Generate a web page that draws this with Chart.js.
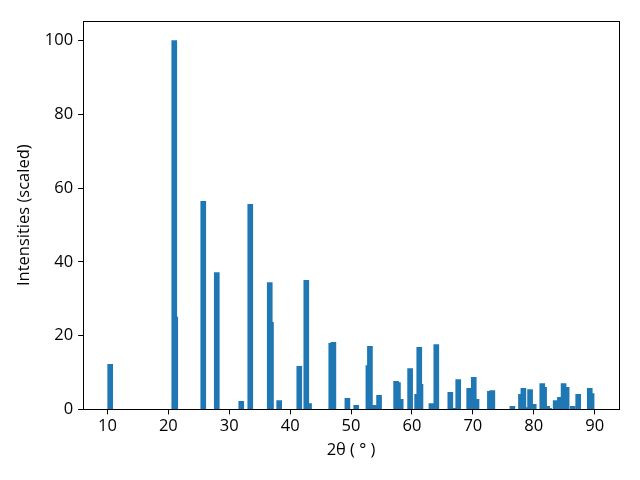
<!DOCTYPE html>
<html>
<head>
<meta charset="utf-8">
<script src="https://cdn.jsdelivr.net/npm/chart.js@4/dist/chart.umd.min.js"></script>
<style>
html,body{margin:0;padding:0;background:#fff;}
#wrap{width:640px;height:480px;}
</style>
</head>
<body>
<div id="wrap"><canvas id="c" width="640" height="480"></canvas></div>
<script>
const twoTheta = [10.45, 20.97, 21.13, 25.73, 27.95, 31.97, 33.45, 36.65, 36.85, 38.2, 41.5, 42.65, 43.1,
  46.75, 47.1, 49.4, 50.85, 52.85, 53.1, 53.9, 54.6, 57.4, 57.7, 58.15, 59.7, 60.85, 61.2, 61.4,
  63.2, 64.0, 66.3, 66.8, 67.6, 69.4, 69.65, 70.15, 70.6, 72.8, 73.2, 76.5, 77.9, 78.3, 78.8,
  79.4, 80.0, 81.4, 81.7, 82.2, 82.5, 83.6, 84.3, 84.9, 85.4, 86.4, 87.3, 89.2, 89.5];
const intensity = [12.2, 100, 25.0, 56.4, 37.1, 2.2, 55.6, 34.4, 23.6, 2.4, 11.7, 35.0, 1.6,
  17.9, 18.2, 3.0, 1.1, 11.9, 17.1, 1.1, 3.8, 7.6, 7.3, 2.7, 11.1, 4.1, 16.8, 6.8,
  1.6, 17.6, 4.6, 0.3, 8.1, 5.7, 5.1, 8.7, 2.7, 4.9, 5.1, 0.8, 4.1, 5.7, 0.5,
  5.4, 1.4, 7.0, 6.0, 0.8, 0.3, 2.4, 3.3, 7.0, 6.0, 0.8, 4.1, 5.7, 4.3];
const xTicks = [10, 20, 30, 40, 50, 60, 70, 80, 90];
const yTicks = [0, 20, 40, 60, 80, 100];

const points = twoTheta.map((x, i) => ({x: x, y: intensity[i]}));

const frame = {
  id: 'frame',
  afterDraw(chart) {
    const a = chart.chartArea, ctx = chart.ctx;
    ctx.save();
    ctx.strokeStyle = '#000';
    ctx.lineWidth = 1;
    ctx.strokeRect(Math.round(a.left) + 0.5, Math.round(a.top) + 0.5,
      Math.round(a.right - a.left), Math.round(a.bottom - a.top));
    ctx.restore();
  }
};

const font = {family: 'Open Sans', size: 16.5};
new Chart(document.getElementById('c'), {
  type: 'bar',
  data: {
    datasets: [{
      data: points,
      backgroundColor: '#1f77b4',
      borderWidth: 0,
      barThickness: 5,
      grouped: false
    }]
  },
  options: {
    responsive: false,
    animation: false,
    layout: {padding: {top: 21, right: 21, left: 14, bottom: 20}},
    plugins: {legend: {display: false}, tooltip: {enabled: false}},
    scales: {
      x: {
        type: 'linear',
        offset: false,
        min: 6, max: 94,
        afterBuildTicks: (s) => { s.ticks = xTicks.map(v => ({value: v})); },
        grid: {display: true, offset: false, drawOnChartArea: false, tickLength: 5, color: '#000'},
        border: {display: true, color: '#000'},
        ticks: {font: font, color: '#000', padding: 2, maxRotation: 0, autoSkip: false},
        title: {display: true, text: '2θ ( ° )', font: font, color: '#000', padding: {top: 2, bottom: 0}}
      },
      y: {
        min: 0, max: 105.3,
        afterBuildTicks: (s) => { s.ticks = yTicks.map(v => ({value: v})); },
        grid: {display: true, drawOnChartArea: false, tickLength: 5, color: '#000'},
        border: {display: true, color: '#000'},
        ticks: {font: font, color: '#000', padding: 5},
        title: {display: true, text: 'Intensities (scaled)', font: font, color: '#000', padding: {top: 0, bottom: 6}}
      }
    }
  },
  plugins: [frame]
});
</script>
</body>
</html>
